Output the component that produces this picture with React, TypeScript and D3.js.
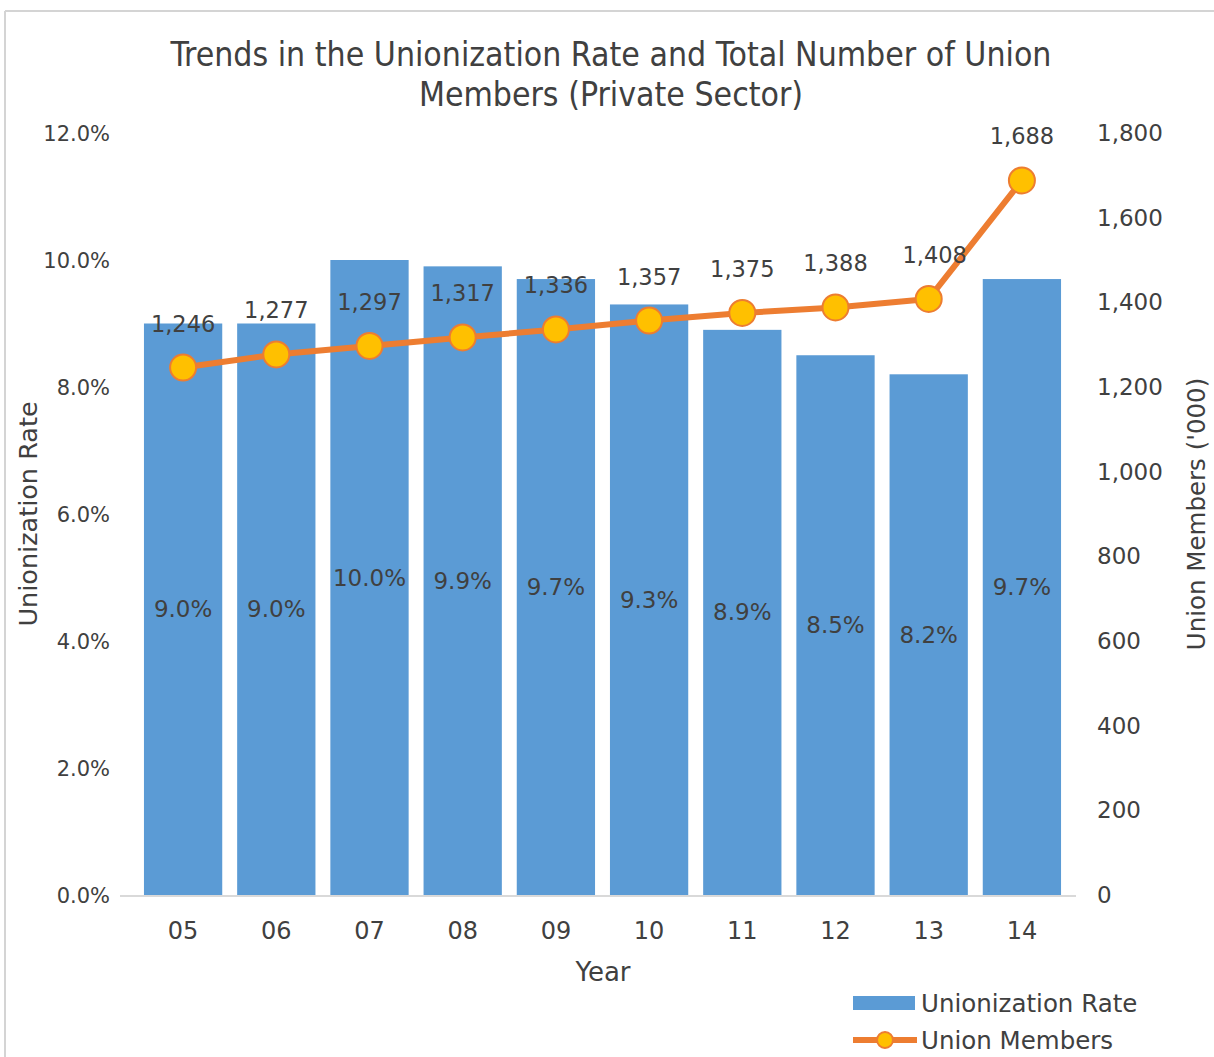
import React from "react";
import * as d3 from "d3";

const years = ["05", "06", "07", "08", "09", "10", "11", "12", "13", "14"];
const rates = [9.0, 9.0, 10.0, 9.9, 9.7, 9.3, 8.9, 8.5, 8.2, 9.7];
const members = [1246, 1277, 1297, 1317, 1336, 1357, 1375, 1388, 1408, 1688];
const leftTicks = [0, 2, 4, 6, 8, 10, 12];
const rightTicks = [0, 200, 400, 600, 800, 1000, 1200, 1400, 1600, 1800];

const W = 1214;
const H = 1057;
const plotLeft = 136.5;
const plotRight = 1068.5;
const plotTop = 133;
const plotBottom = 895;

const TEXT = "#404040";
const BLUE = "#5B9BD5";
const ORANGE = "#ED7D31";
const GOLD = "#FFC000";
const FONT = "'DejaVu Sans', Verdana, sans-serif";
const TFONT = "'DejaVu Sans Condensed', 'DejaVu Sans', sans-serif";

export default function App() {
  const x = d3.scaleBand<string>().domain(years).range([plotLeft, plotRight]).paddingInner(0.16).paddingOuter(0.08);
  const yL = d3.scaleLinear().domain([0, 12]).range([plotBottom, plotTop]);
  const yR = d3.scaleLinear().domain([0, 1800]).range([plotBottom, plotTop]);
  const cx = (y: string) => (x(y) as number) + x.bandwidth() / 2;
  const line = d3
    .line<number>()
    .x((_, i) => cx(years[i]))
    .y((d) => yR(d));
  const fmt = d3.format(",");

  return (
    <svg width={W} height={H} style={{ position: "absolute", left: 0, top: 0, background: "#fff" }}>
      <rect x={0} y={0} width={W} height={H} fill="#fff" />
      <line x1={5} y1={11} x2={W} y2={11} stroke="#d4d4d4" strokeWidth={2} />
      <line x1={5} y1={11} x2={5} y2={H} stroke="#d4d4d4" strokeWidth={2} />

      <text x={611} y={66} textAnchor="middle" fontFamily={TFONT} fontSize={33.5} fill={TEXT}>
        Trends in the Unionization Rate and Total Number of Union
      </text>
      <text x={611} y={106} textAnchor="middle" fontFamily={TFONT} fontSize={33.5} fill={TEXT}>
        Members (Private Sector)
      </text>

      {leftTicks.map((t) => (
        <text key={"l" + t} x={110} y={yL(t) + 8} textAnchor="end" fontFamily={FONT} fontSize={21} fill={TEXT}>
          {t.toFixed(1) + "%"}
        </text>
      ))}
      {rightTicks.map((t) => (
        <text key={"r" + t} x={1097} y={yR(t) + 8} textAnchor="start" fontFamily={FONT} fontSize={23} fill={TEXT}>
          {fmt(t)}
        </text>
      ))}

      <text
        transform={`translate(37,${(plotTop + plotBottom) / 2 + 0}) rotate(-90)`}
        textAnchor="middle"
        fontFamily={FONT}
        fontSize={25.5}
        fill={TEXT}
      >
        Unionization Rate
      </text>
      <text
        transform={`translate(1205,${(plotTop + plotBottom) / 2 + 0}) rotate(-90)`}
        textAnchor="middle"
        fontFamily={FONT}
        fontSize={24.5}
        fill={TEXT}
      >
        Union Members ('000)
      </text>

      {rates.map((r, i) => (
        <rect
          key={"b" + i}
          x={x(years[i]) as number}
          y={yL(r)}
          width={x.bandwidth()}
          height={plotBottom - yL(r)}
          fill={BLUE}
        />
      ))}
      <line x1={120} x2={1076} y1={plotBottom + 1} y2={plotBottom + 1} stroke="#d9d9d9" strokeWidth={2} />

      {rates.map((r, i) => (
        <text
          key={"bl" + i}
          x={cx(years[i])}
          y={(yL(r) + plotBottom) / 2 + 8}
          textAnchor="middle"
          fontFamily={FONT}
          fontSize={23}
          fill={TEXT}
        >
          {r.toFixed(1) + "%"}
        </text>
      ))}

      {years.map((y) => (
        <text key={"x" + y} x={cx(y)} y={939} textAnchor="middle" fontFamily={FONT} fontSize={24} fill={TEXT}>
          {y}
        </text>
      ))}
      <text x={603} y={981} textAnchor="middle" fontFamily={FONT} fontSize={26} fill={TEXT}>
        Year
      </text>

      <path d={line(members) || ""} fill="none" stroke={ORANGE} strokeWidth={6} strokeLinejoin="round" />
      {members.map((m, i) => (
        <circle key={"c" + i} cx={cx(years[i])} cy={yR(m)} r={13} fill={GOLD} stroke={ORANGE} strokeWidth={2} />
      ))}
      {members.map((m, i) => (
        <text
          key={"ml" + i}
          x={cx(years[i]) + (i === 8 ? 6 : 0)}
          y={yR(m) - 36}
          textAnchor="middle"
          fontFamily={FONT}
          fontSize={22.5}
          fill={TEXT}
        >
          {fmt(m)}
        </text>
      ))}

      <rect x={853} y={996} width={62} height={14} fill={BLUE} />
      <text x={921} y={1012} fontFamily={FONT} fontSize={24.5} fill={TEXT}>
        Unionization Rate
      </text>
      <line x1={853} x2={917} y1={1040} y2={1040} stroke={ORANGE} strokeWidth={6} />
      <circle cx={885} cy={1040} r={8} fill={GOLD} stroke={ORANGE} strokeWidth={2} />
      <text x={921} y={1049} fontFamily={FONT} fontSize={24.5} fill={TEXT}>
        Union Members
      </text>
    </svg>
  );
}
